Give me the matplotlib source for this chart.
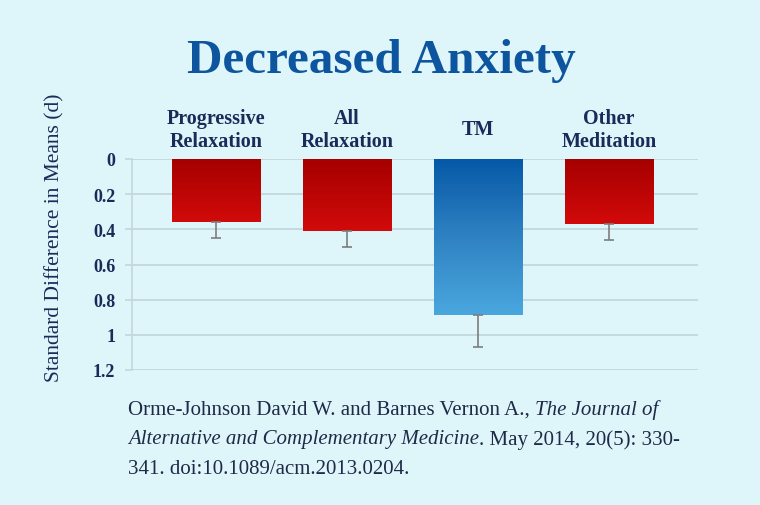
import numpy as np
import matplotlib
matplotlib.use("Agg")
import matplotlib.pyplot as plt
from matplotlib.colors import LinearSegmentedColormap

categories = ["Progressive\nRelaxation", "All\nRelaxation", "TM", "Other\nMeditation"]
values = [0.36, 0.41, 0.89, 0.37]
errors = [0.09, 0.09, 0.18, 0.09]
ytick_values = [0, 0.2, 0.4, 0.6, 0.8, 1.0, 1.2]
ytick_labels = ["0", "0.2", "0.4", "0.6", "0.8", "1", "1.2"]
title = "Decreased Anxiety"
ylabel = "Standard Difference in Means (d)"

BG = "#def6fa"
NAVY = "#1b2a58"
SERIF = "Liberation Serif"

fig = plt.figure(figsize=(7.6, 5.06), dpi=100, facecolor=BG)
W, H = 760, 506
ax = fig.add_axes([132 / W, 1 - 371 / H, 566 / W, 211 / H])
ax.set_facecolor(BG)

x = np.arange(len(categories))

for yv in ytick_values:
    ax.axhline(yv, color="#c4d6dc", lw=1.3, zorder=0)

red_cmap = LinearSegmentedColormap.from_list("r", ["#a50000", "#d20a0a"])
blue_cmap = LinearSegmentedColormap.from_list("b", ["#0558a6", "#2f82c2", "#4aa7de"])
cmaps = [red_cmap, red_cmap, blue_cmap, red_cmap]

bars = ax.bar(x, values, width=0.672, color="none", edgecolor="none", zorder=2)
grad = np.linspace(0, 1, 256).reshape(-1, 1)
for b, cm in zip(bars, cmaps):
    x0, y0 = b.get_x(), b.get_y()
    w, h = b.get_width(), b.get_height()
    im = ax.imshow(grad, cmap=cm, aspect="auto", extent=[x0, x0 + w, y0 + h, y0],
                   origin="upper", zorder=2)
    im.set_clip_path(b)
ax.set_xlim(-0.641, 3.679)
ax.set_ylim(1.2, 0)

ax.errorbar(x, values, yerr=[np.zeros(len(values)), errors], fmt="none",
            ecolor="#7d7d7d", elinewidth=1.2, capsize=3.5, capthick=1.2, zorder=3)

for s in ["top", "right", "bottom"]:
    ax.spines[s].set_visible(False)
ax.spines["left"].set_color("#c4d6dc")
ax.spines["left"].set_linewidth(1.2)
ax.set_xticks([])
ax.set_yticks(ytick_values)
ax.set_yticklabels(ytick_labels, fontfamily=SERIF, fontweight="bold", fontsize=13, color=NAVY)
ax.tick_params(axis="y", length=5, color="#c4d6dc", width=1.2, pad=7)

for xi, lab in zip(x, categories):
    ax.text(xi, 1.14, lab, transform=ax.get_xaxis_transform(), ha="center", va="center",
            fontfamily=SERIF, fontweight="bold", fontsize=14.5, color=NAVY, linespacing=1.2)

fig.text(381 / W, 1 - 61 / H, title, ha="center", va="center", fontfamily=SERIF,
         fontweight="bold", fontsize=35.5, color="#0d559e")
fig.text(55 / W, 1 - 238 / H, ylabel, rotation=90, ha="center", va="center",
         fontfamily=SERIF, fontsize=15.5, color=NAVY)

# citation with mixed italic
lines = [
    [("Orme-Johnson David W. and Barnes Vernon A., ", "normal"), ("The Journal of", "italic")],
    [("Alternative and Complementary Medicine", "italic"), (". May 2014, 20(5): 330-", "normal")],
    [("341. doi:10.1089/acm.2013.0204.", "normal")],
]
CIT = 15
fig.canvas.draw()
r = fig.canvas.get_renderer()

def width_of(s, style):
    t = fig.text(0, 0, s, fontfamily=SERIF, fontsize=CIT, style=style)
    w = t.get_window_extent(r).width
    t.remove()
    return w

space_w = width_of("x x", "normal") - width_of("xx", "normal")
ys = [410, 440, 470]
for line, yp in zip(lines, ys):
    xp = 128
    for s, st in line:
        txt = s.rstrip(" ")
        t = fig.text(xp / W, 1 - yp / H, txt, fontfamily=SERIF, fontsize=CIT, style=st,
                     color="#1e2a48", ha="left", va="center")
        xp += t.get_window_extent(r).width + space_w * (len(s) - len(txt))

fig.savefig("out.png", dpi=100, facecolor=BG)
